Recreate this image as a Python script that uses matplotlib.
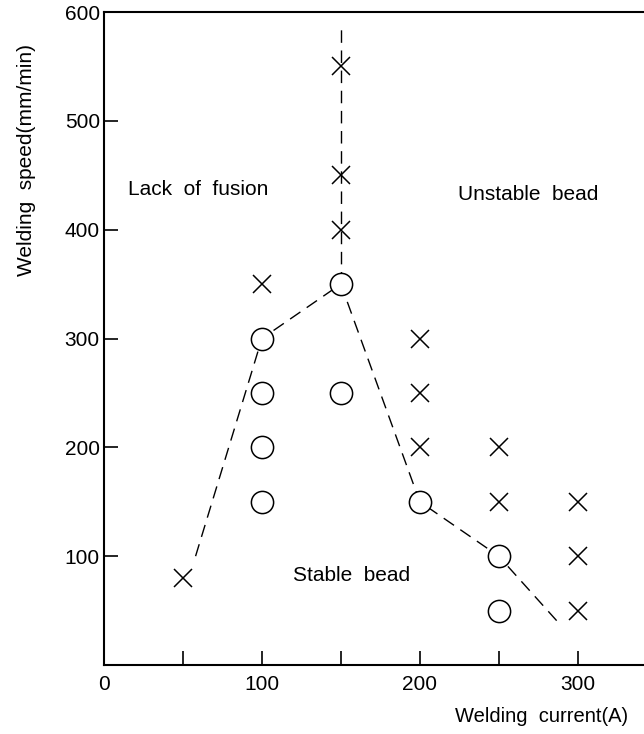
import matplotlib
matplotlib.use("Agg")
import matplotlib.pyplot as plt

plt.rcParams['font.family'] = ['Liberation Sans', 'DejaVu Sans']

# Stable bead (open circles)
stable_x = [100, 100, 100, 100, 150, 150, 200, 250, 250]
stable_y = [300, 250, 200, 150, 350, 250, 150, 100, 50]
# Unstable / lack of fusion (crosses)
cross_x = [50, 100, 150, 150, 150, 200, 200, 200, 250, 250, 300, 300, 300]
cross_y = [80, 350, 550, 450, 400, 300, 250, 200, 200, 150, 150, 100, 50]
# Boundary (dashed)
bound_x = [58, 100, 150, 200, 250, 289]
bound_y = [100, 300, 350, 150, 100, 37]
vert_x = [150, 150]
vert_y = [350, 590]

xticks_major = [0, 100, 200, 300]
xticks_minor = [50, 150, 250]
yticks = [100, 200, 300, 400, 500, 600]

fig = plt.figure(figsize=(6.44, 7.34), dpi=100)
ax = fig.add_axes([104/644, 1 - 665/734, 1 - 104/644, (665 - 12)/734])

ax.plot(bound_x, bound_y, color='black', lw=1.0, dashes=(9, 5.5), zorder=1)
ax.plot(vert_x, vert_y, color='black', lw=1.0, dashes=(9, 5.5), zorder=1)
ax.plot(stable_x, stable_y, linestyle='none', marker='o', markersize=16,
        markerfacecolor='white', markeredgecolor='black', markeredgewidth=1.1, zorder=3)
ax.plot(cross_x, cross_y, linestyle='none', marker='x', markersize=13,
        color='black', markeredgewidth=1.1, zorder=3)

ax.set_xlim(0, 342)
ax.set_ylim(0, 600)
ax.set_xticks(xticks_major)
ax.set_xticks(xticks_minor, minor=True)
ax.set_yticks(yticks)
ax.tick_params(axis='both', which='both', direction='in', length=10, width=1.2,
               labelsize=15)
ax.tick_params(axis='x', pad=7)
ax.tick_params(axis='y', pad=3)
ax.spines['right'].set_visible(False)
for s in ['left', 'bottom', 'top']:
    ax.spines[s].set_linewidth(1.5)

ax.text(15, 437, 'Lack  of  fusion', fontsize=15, ha='left', va='center')
ax.text(224, 432, 'Unstable  bead', fontsize=15, ha='left', va='center')
ax.text(120, 82, 'Stable  bead', fontsize=15, ha='left', va='center')

fig.text(27/644, 1 - 160/734, 'Welding  speed(mm/min)', rotation=90,
         fontsize=15, ha='center', va='center')
fig.text(542/644, 1 - 722/734, 'Welding  current(A)', fontsize=14.5,
         ha='center', va='baseline')

fig.savefig('out.png', dpi=100)
